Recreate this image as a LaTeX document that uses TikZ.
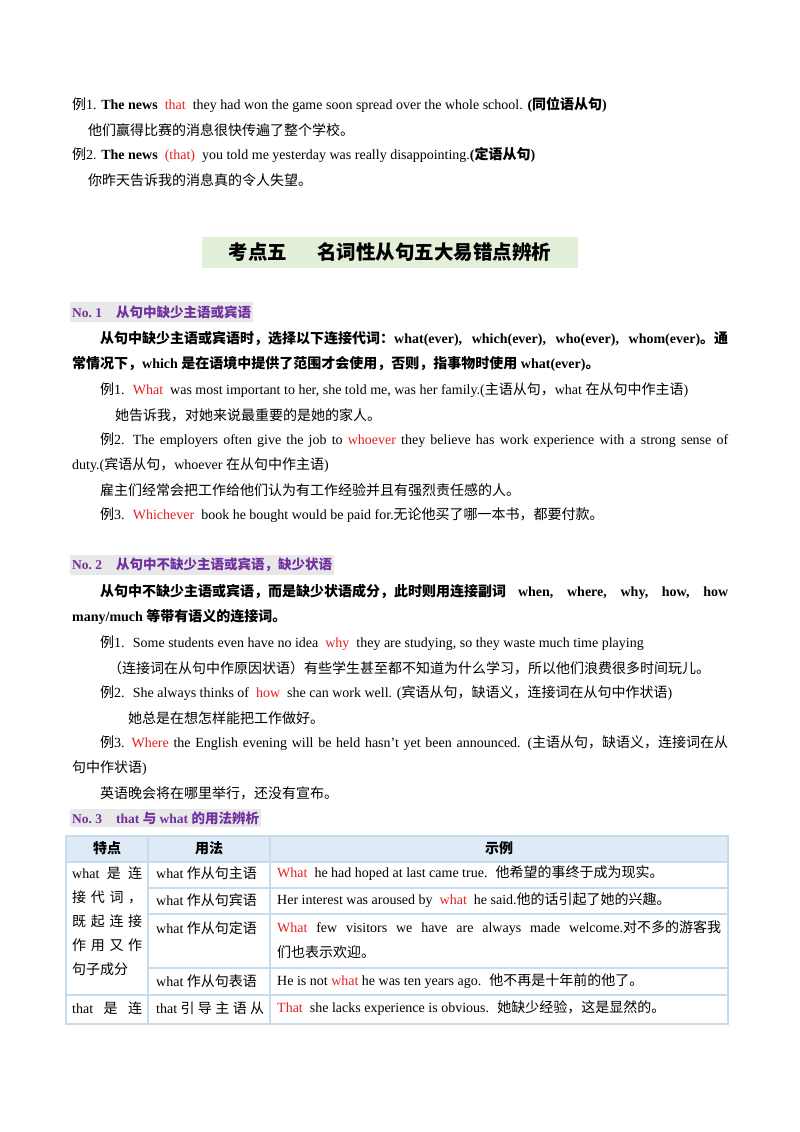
\documentclass[tikz,border=0pt]{standalone}
\usepackage{fontspec}
\setmainfont{Liberation Serif}
\newfontfamily\zhfont{Noto Sans CJK SC}
\XeTeXinterchartokenstate=1
\newXeTeXintercharclass\CJKcls
\count255="4E00 \loop \XeTeXcharclass\count255=\CJKcls \ifnum\count255<"9FFF \advance\count255 1 \repeat
\count255="3000 \loop \XeTeXcharclass\count255=\CJKcls \ifnum\count255<"303F \advance\count255 1 \repeat
\count255="FF00 \loop \XeTeXcharclass\count255=\CJKcls \ifnum\count255<"FFEF \advance\count255 1 \repeat
\XeTeXinterchartoks 0 \CJKcls = {\zhfont}
\XeTeXinterchartoks 4095 \CJKcls = {\zhfont}
\XeTeXinterchartoks \CJKcls 0 = {\rmfamily}
\XeTeXinterchartoks \CJKcls 4095 = {\rmfamily}
\XeTeXlinebreaklocale "zh"
\XeTeXlinebreakskip=0pt plus 6pt
\definecolor{hred}{RGB}{230,30,30}
\definecolor{hpur}{RGB}{112,48,160}
\definecolor{hgray}{RGB}{232,232,232}
\definecolor{hgreen}{RGB}{226,240,218}
\definecolor{tline}{RGB}{200,220,240}
\definecolor{thead}{RGB}{222,234,246}
\newcommand{\rd}[1]{\textcolor{hred}{#1}}
\newcommand{\jline}[2]{\hbox to #1{\spaceskip=0.3em plus 3em #2}}
\tikzset{
 t/.style={anchor=west,inner sep=0pt,font=\fontsize{14}{24}\selectfont},
 tb/.style={t,font=\fontsize{14}{24}\selectfont\bfseries},
 hd/.style={t,font=\fontsize{13.5}{24}\selectfont\bfseries,text=hpur,fill=hgray,inner xsep=2pt,inner ysep=3pt},
 tl/.style={draw=tline,line width=2.5pt},
}
\begin{document}
\begin{tikzpicture}[x=1pt,y=-1pt]
\useasboundingbox (0,0) rectangle (800,1132);
\node[t] (a1) at (72,105) {例1. \textbf{The news} \ \rd{that} \ they had won the game soon spread over the whole school. \textbf{(同位语从句)}};
\node[t] (a2) at (88,130) {他们赢得比赛的消息很快传遍了整个学校。};
\node[t] (a3) at (72,155) {例2. \textbf{The news} \ \rd{(that)} \ you told me yesterday was really disappointing.\textbf{(定语从句)}};
\node[t] (a4) at (88,180) {你昨天告诉我的消息真的令人失望。};
\node[anchor=center,fill=hgreen,minimum width=376pt,minimum height=31pt,inner sep=0pt,font=\fontsize{19.5}{22}\selectfont\bfseries] (h) at (390,252) {考点五\hspace{30pt}名词性从句五大易错点辨析};
\node[hd] (n1) at (70,312) {No.\ 1\hspace{14pt}从句中缺少主语或宾语};
\node[tb] (b1) at (100,339) {\jline{628pt}{从句中缺少主语或宾语时，选择以下连接代词：what(ever), which(ever), who(ever), whom(ever)。通}};
\node[tb] (b2) at (72,364) {常情况下，which 是在语境中提供了范围才会使用，否则，指事物时使用 what(ever)。};
\node[t] (b3) at (100,390) {例1. \ \rd{What} \ was most important to her, she told me, was her family.(主语从句，what 在从句中作主语)};
\node[t] (b4) at (115,415) {她告诉我，对她来说最重要的是她的家人。};
\node[t] (b5) at (100,440) {\jline{628pt}{例2. The employers often give the job to \rd{whoever} they believe has work experience with a strong sense of}};
\node[t] (b6) at (72,465) {duty.(宾语从句，whoever 在从句中作主语)};
\node[t] (b7) at (100,490) {雇主们经常会把工作给他们认为有工作经验并且有强烈责任感的人。};
\node[t] (b8) at (100,515) {例3. \ \rd{Whichever} \ book he bought would be paid for.无论他买了哪一本书，都要付款。};
\node[hd] (n2) at (70,565) {No.\ 2\hspace{14pt}从句中不缺少主语或宾语，缺少状语};
\node[tb] (c1) at (100,592) {\jline{628pt}{从句中不缺少主语或宾语，而是缺少状语成分，此时则用连接副词 when, where, why, how, how}};
\node[tb] (c2) at (72,617) {many/much 等带有语义的连接词。};
\node[t] (c3) at (100,643) {例1. \ Some students even have no idea \ \rd{why} \ they are studying, so they waste much time playing};
\node[t] (c4) at (108,668) {（连接词在从句中作原因状语）有些学生甚至都不知道为什么学习，所以他们浪费很多时间玩儿。};
\node[t] (c5) at (100,693) {例2. \ She always thinks of \ \rd{how} \ she can work well. (宾语从句，缺语义，连接词在从句中作状语)};
\node[t] (c6) at (128,718) {她总是在想怎样能把工作做好。};
\node[t] (c7) at (100,743) {\jline{628pt}{例3. \rd{Where} the English evening will be held hasn't yet been announced. (主语从句，缺语义，连接词在从}};
\node[t] (c8) at (72,768) {句中作状语)};
\node[t] (c9) at (100,793) {英语晚会将在哪里举行，还没有宣布。};
\node[hd] (n3) at (70,818) {No.\ 3\hspace{14pt}that 与 what 的用法辨析};
% table
\fill[thead] (66,836) rectangle (728,862);
\draw[tl] (66,836) rectangle (728,1024);
\draw[tl] (66,862) -- (728,862);
\draw[tl] (148,836) -- (148,1024);
\draw[tl] (270,836) -- (270,1024);
\draw[tl] (148,888) -- (728,888);
\draw[tl] (148,914) -- (728,914);
\draw[tl] (148,968) -- (728,968);
\draw[tl] (66,995) -- (728,995);
\node[tb,anchor=center] (th1) at (107,848) {特点};
\node[tb,anchor=center] (th2) at (209,848) {用法};
\node[tb,anchor=center] (th3) at (499,848) {示例};
\node[t] (k1) at (72,873) {\jline{70pt}{what 是 连}};
\node[t] (k2) at (72,897) {\jline{70pt}{接\hfill 代\hfill 词\hfill ，}};
\node[t] (k3) at (72,921) {\jline{70pt}{既\hfill 起\hfill 连\hfill 接}};
\node[t] (k4) at (72,945) {\jline{70pt}{作\hfill 用\hfill 又\hfill 作}};
\node[t] (k5) at (72,969) {句子成分};
\node[t] (k6) at (72,1008) {\jline{70pt}{that 是 连}};
\node[t] (u1) at (156,873) {what 作从句主语};
\node[t] (u2) at (156,900) {what 作从句宾语};
\node[t] (u3) at (156,928) {what 作从句定语};
\node[t] (u4) at (156,981) {what 作从句表语};
\node[t] (u5) at (156,1008) {\jline{108pt}{that\hfill 引\hfill 导\hfill 主\hfill 语\hfill 从}};
\node[t] (e1) at (277,873) {\rd{What} \ he had hoped at last came true. \ 他希望的事终于成为现实。};
\node[t] (e2) at (277,900) {Her interest was aroused by \ \rd{what} \ he said.他的话引起了她的兴趣。};
\node[t] (e3) at (277,928) {\jline{444pt}{\rd{What} few visitors we have are always made welcome.对不多的游客我}};
\node[t] (e3b) at (277,952) {们也表示欢迎。};
\node[t] (e4) at (277,981) {He is not \rd{what} he was ten years ago. \ 他不再是十年前的他了。};
\node[t] (e5) at (277,1008) {\rd{That} \ she lacks experience is obvious. \ 她缺少经验，这是显然的。};
\end{tikzpicture}
\end{document}
